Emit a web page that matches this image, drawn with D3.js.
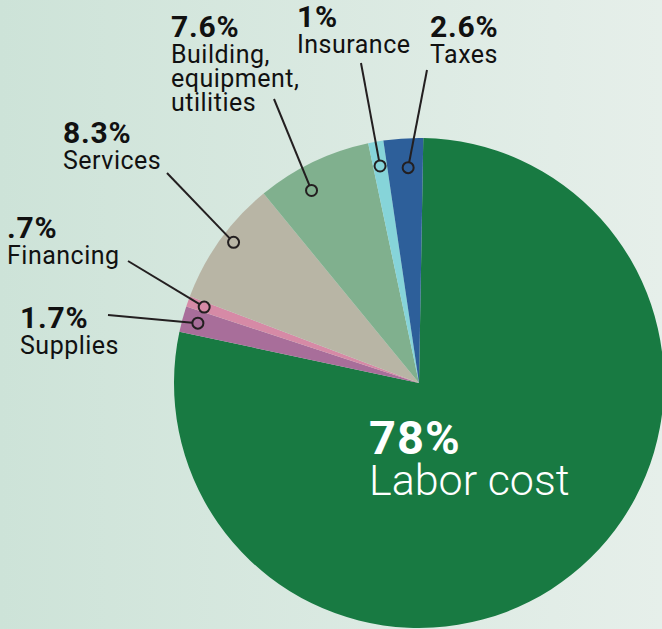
<!DOCTYPE html>
<html>
<head>
<meta charset="utf-8">
<script src="https://cdn.jsdelivr.net/npm/d3@7"></script>
<style>
  html, body { margin: 0; padding: 0; }
  svg { display: block; font-family: Roboto, "Open Sans", sans-serif; }
</style>
</head>
<body>
<svg id="svg1" width="662" height="629"></svg>
<script>
// cost shares, clockwise from 12 o'clock
var categories = ["Labor cost", "Supplies", "Financing", "Services", "Building, equipment, utilities", "Insurance", "Taxes"];
var shares = [78, 1.7, 0.7, 8.3, 7.6, 1, 2.6];
var shareLabels = ["78%", "1.7%", ".7%", "8.3%", "7.6%", "1%", "2.6%"];
var colors = ["#187a42", "#a86e9a", "#d68aa6", "#b8b5a5", "#80b08e", "#86d4d9", "#2d5f9a"];

var width = 662, height = 629;
var cx = 419, cy = 383, radius = 245;

var svg = d3.select('#svg1');

// background gradient
var defs = svg.append('defs');
var grad = defs.append('linearGradient').attr('id', 'bg').attr('x1', 0).attr('x2', 1).attr('y1', 0).attr('y2', 0);
grad.append('stop').attr('offset', '0%').attr('stop-color', '#cde3d8');
grad.append('stop').attr('offset', '100%').attr('stop-color', '#e6efea');
svg.append('rect').attr('width', width).attr('height', height).attr('fill', 'url(#bg)');

var data = categories.map(function(c, i) { return {name: c, value: shares[i], label: shareLabels[i], color: colors[i]}; });

var offset = 1 * Math.PI / 180; // pie is turned a hair clockwise
var pie = d3.pie().sort(null).value(function(d) { return d.value; })
    .startAngle(offset).endAngle(2 * Math.PI + offset);
var arcs = pie(data);

var arc = d3.arc().innerRadius(0).outerRadius(radius);

var g = svg.append('g').attr('transform', 'translate(' + cx + ',' + cy + ')');

g.selectAll('path')
    .data(arcs)
    .enter().append('path')
    .attr('d', arc)
    .attr('fill', function(d) { return d.data.color; });

// callout layout: text corner, leader start, marker radius (fraction of R), marker angle nudge (deg)
var callouts = {
  "Supplies":  {x: 20,  y: 328, lines: ["Supplies"], from: [108, 315], rf: 0.935, nudge: 0},
  "Financing": {x: 7,   y: 238, lines: ["Financing"], from: [128, 261], rf: 0.93, nudge: 0},
  "Services":  {x: 63,  y: 143, lines: ["Services"], from: [167, 173], rf: 0.95, nudge: 1.5},
  "Building, equipment, utilities": {x: 171, y: 37, lines: ["Building,", "equipment,", "utilities"], from: [274, 99], rf: 0.9, nudge: -3.5},
  "Insurance": {x: 297, y: 27, lines: ["Insurance"], from: [361, 63], rf: 0.9, nudge: 0},
  "Taxes":     {x: 430, y: 37, lines: ["Taxes"], from: [427, 70], rf: 0.88, nudge: 0.8}
};

var ink = '#231f20';
var markerR = 5.5;

arcs.forEach(function(d) {
  var c = callouts[d.data.name];
  if (!c) return;
  var a = (d.startAngle + d.endAngle) / 2 + c.nudge * Math.PI / 180;
  var mx = cx + Math.sin(a) * radius * c.rf;
  var my = cy - Math.cos(a) * radius * c.rf;
  var dx = mx - c.from[0], dy = my - c.from[1];
  var len = Math.sqrt(dx * dx + dy * dy);

  svg.append('line')
      .attr('x1', c.from[0]).attr('y1', c.from[1])
      .attr('x2', mx - dx / len * markerR).attr('y2', my - dy / len * markerR)
      .attr('stroke', ink).attr('stroke-width', 2);
  svg.append('circle')
      .attr('cx', mx).attr('cy', my).attr('r', markerR)
      .attr('fill', 'none').attr('stroke', ink).attr('stroke-width', 2);

  svg.append('text').attr('x', c.x).attr('y', c.y).attr('fill', '#111')
      .attr('font-weight', 700).attr('font-size', 30).attr('letter-spacing', 0.8)
      .text(d.data.label);
  c.lines.forEach(function(l, i) {
    svg.append('text').attr('x', c.x).attr('y', c.y + 26 + i * 24).attr('fill', '#111')
        .attr('font-size', 25).attr('letter-spacing', 0.5).text(l);
  });
});

// big label inside the labor slice
svg.append('text').attr('x', 369).attr('y', 454).attr('fill', '#fff')
    .attr('font-weight', 700).attr('font-size', 47).attr('letter-spacing', 1).text(data[0].label);
svg.append('text').attr('x', 369).attr('y', 495).attr('fill', '#fff')
    .attr('font-weight', 300).attr('font-size', 43).text(data[0].name);
</script>
</body>
</html>
